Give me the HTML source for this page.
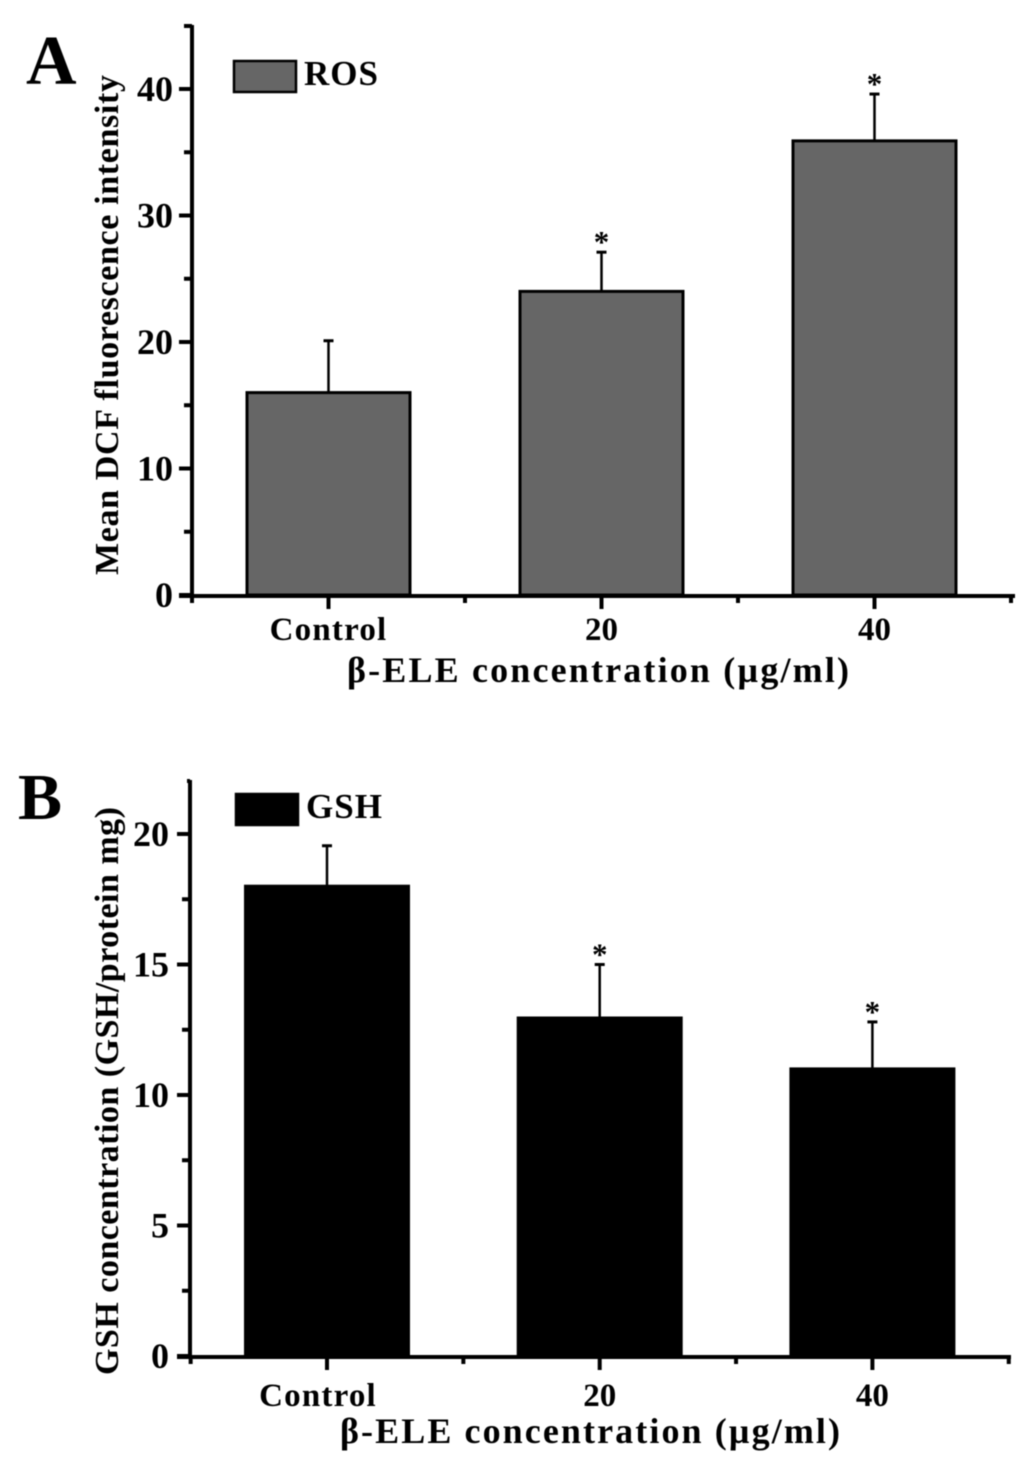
<!DOCTYPE html>
<html>
<head>
<meta charset="utf-8">
<title>ROS and GSH bar charts</title>
<style>
html,body{margin:0;padding:0;background:#fff;width:1031px;height:1466px;overflow:hidden}
svg{display:block;font-family:"Liberation Serif",serif;font-weight:bold;fill:#000;filter:blur(0.5px)}
</style>
</head>
<body>
<svg id="chart" width="1031" height="1466" viewBox="0 0 1031 1466" xmlns="http://www.w3.org/2000/svg"></svg>
<script>
const categories = ["Control", "20", "40"];
const rosValues = [16, 24, 35.9];
const rosErrors = [4.1, 3.1, 3.7];
const rosStars = [false, true, true];
const rosTicks = [0, 10, 20, 30, 40];
const gshValues = [18, 12.95, 11];
const gshErrors = [1.55, 2.05, 1.8];
const gshStars = [false, true, true];
const gshTicks = [0, 5, 10, 15, 20];

const svg = document.getElementById('chart');
const NS = 'http://www.w3.org/2000/svg';

function add(parent, tag, attrs, name, text) {
  const el = document.createElementNS(NS, tag);
  for (const k in attrs) el.setAttribute(k, attrs[k]);
  
  
  if (text !== undefined) el.textContent = text;
  parent.appendChild(el);
  return el;
}

function drawPanel(p) {
  const g = add(svg, 'g', {}, p.id + '-panel');
  const y = v => p.y0 - v * p.pxPerUnit;
  const x = i => p.xFirst + i * p.xStep;

  // bars
  p.values.forEach((v, i) => {
    const top = y(v);
    const cx = x(i);
    const errTop = y(v + p.errors[i]);
    add(g, 'line', {x1: cx, x2: cx, y1: errTop, y2: top, stroke: '#000', 'stroke-width': 2.5}, p.id + '-error-stem-' + i);
    add(g, 'line', {x1: cx - 5, x2: cx + 5, y1: errTop, y2: errTop, stroke: '#000', 'stroke-width': 3}, p.id + '-error-cap-' + i);
    add(g, 'rect', {x: cx - p.barW / 2, y: top, width: p.barW, height: p.y0 - top, fill: p.fill, stroke: '#000', 'stroke-width': 3}, p.id + '-bar-' + i);
    if (p.stars[i]) {
      add(g, 'text', {x: cx, y: errTop, 'font-size': 31, 'text-anchor': 'middle'}, p.id + '-significance-star-' + i, '*');
    }
  });

  // y axis
  add(g, 'line', {x1: p.axisX, x2: p.axisX, y1: p.axisTop, y2: p.y0 + 3, stroke: '#000', 'stroke-width': 4}, p.id + '-y-axis');
  p.ticks.forEach((t, i) => {
    const ty = y(t);
    add(g, 'line', {x1: p.axisX - 13, x2: p.axisX, y1: ty, y2: ty, stroke: '#000', 'stroke-width': 4}, p.id + '-y-tick-' + t);
    add(g, 'text', {x: p.axisX - p.yLabelGap, y: ty + 12, 'font-size': 36, 'text-anchor': 'end'}, p.id + '-y-tick-label-' + t, String(t));
    if (i < p.ticks.length - 1) {
      const my = y((t + p.ticks[i + 1]) / 2);
      add(g, 'line', {x1: p.axisX - 8, x2: p.axisX, y1: my, y2: my, stroke: '#000', 'stroke-width': 4}, p.id + '-y-minor-tick-' + i);
    }
  });
  add(g, 'line', {x1: p.axisX - p.topNub, x2: p.axisX, y1: p.axisTop + 1, y2: p.axisTop + 1, stroke: '#000', 'stroke-width': 4}, p.id + '-y-top-tick');
  add(g, 'text', {transform: 'translate(' + p.yTitleX + ',' + p.yTitleY + ') rotate(-90)', 'font-size': p.yTitleSize, 'text-anchor': 'middle', textLength: p.yTitleLen, lengthAdjust: 'spacing'}, p.id + '-y-axis-title', p.yTitle);

  // x axis
  add(g, 'line', {x1: p.axisX - 13, x2: p.axisEnd, y1: p.y0 + 1, y2: p.y0 + 1, stroke: '#000', 'stroke-width': 4}, p.id + '-x-axis');
  categories.forEach((c, i) => {
    const cx = x(i);
    const labelShift = i === 0 ? p.firstLabelShift : 0;
    add(g, 'line', {x1: cx, x2: cx, y1: p.y0, y2: p.y0 + 14, stroke: '#000', 'stroke-width': 4}, p.id + '-x-tick-' + i);
    add(g, 'line', {x1: cx + p.xStep / 2, x2: cx + p.xStep / 2, y1: p.y0, y2: p.y0 + 8, stroke: '#000', 'stroke-width': 4}, p.id + '-x-minor-tick-' + i);
    add(g, 'text', {x: cx + labelShift, y: p.xLabelY, 'font-size': 33, 'text-anchor': 'middle', 'letter-spacing': c.length > 2 ? 1.2 : 0}, p.id + '-x-tick-label-' + i, c);
  });
  add(g, 'line', {x1: x(0) - p.xStep / 2, x2: x(0) - p.xStep / 2, y1: p.y0, y2: p.y0 + 8, stroke: '#000', 'stroke-width': 4}, p.id + '-x-minor-tick-start');
  add(g, 'text', {x: p.xTitleX, y: p.xTitleY, 'font-size': 36, 'text-anchor': 'middle', textLength: p.xTitleLen, lengthAdjust: 'spacing'}, p.id + '-x-axis-title', 'β-ELE concentration (µg/ml)');

  // legend
  const lg = add(g, 'g', {}, p.id + '-legend');
  add(lg, 'rect', {x: p.legX, y: p.legY, width: 62, height: 31, fill: p.fill, stroke: '#000', 'stroke-width': 2.5}, p.id + '-legend-swatch');
  add(lg, 'text', {x: p.legX + 70, y: p.legY + 24, 'font-size': 35, 'letter-spacing': 1}, p.id + '-legend-label', p.legend);

  // panel letter
  add(g, 'text', {x: p.letterX, y: p.letterY, 'font-size': p.letterSize}, p.id + '-panel-letter', p.letter);
}

drawPanel({
  id: 'ros', letter: 'A', letterX: 26, letterY: 84, letterSize: 70, fill: '#666666',
  values: rosValues, errors: rosErrors, stars: rosStars, ticks: rosTicks,
  y0: 595, pxPerUnit: 12.65, axisX: 192, axisTop: 25, axisEnd: 1015, yLabelGap: 19, topNub: 8,
  xFirst: 328.5, xStep: 273, barW: 163, xLabelY: 640, firstLabelShift: 0,
  yTitle: 'Mean DCF fluorescence intensity', yTitleX: 118, yTitleY: 325, yTitleSize: 34, yTitleLen: 500,
  xTitleX: 598, xTitleY: 682, xTitleLen: 502,
  legX: 234, legY: 61, legend: 'ROS'
});
drawPanel({
  id: 'gsh', letter: 'B', letterX: 18, letterY: 819, letterSize: 66, fill: '#000000',
  values: gshValues, errors: gshErrors, stars: gshStars, ticks: gshTicks,
  y0: 1356, pxPerUnit: 26.1, axisX: 190, axisTop: 780, axisEnd: 1011, yLabelGap: 21, topNub: 3,
  xFirst: 327, xStep: 272.7, barW: 163, xLabelY: 1406, firstLabelShift: -9,
  yTitle: 'GSH concentration (GSH/protein mg)', yTitleX: 118, yTitleY: 1091, yTitleSize: 34, yTitleLen: 568,
  xTitleX: 590, xTitleY: 1443, xTitleLen: 500,
  legX: 236, legY: 794, legend: 'GSH'
});
</script>
</body>
</html>
